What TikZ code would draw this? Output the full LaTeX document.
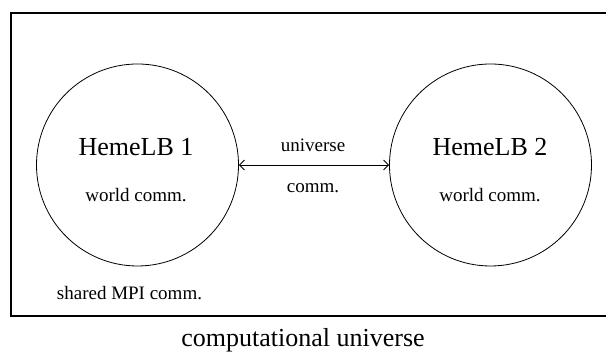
\documentclass[tikz,border=0pt]{standalone}
\usepackage{fontspec}
\setmainfont{Liberation Serif}
\usetikzlibrary{arrows,arrows.meta,positioning,calc}

\begin{document}
\begin{tikzpicture}[x=0.5pt,y=0.5pt]
    \useasboundingbox (0,0) rectangle (606,352);
    \tikzset{
        code/.style={draw, circle, minimum size=101pt, inner sep=0pt},
        big/.style={font=\fontsize{13}{15}\selectfont},
        small/.style={font=\fontsize{9.5}{11}\selectfont}
    }

    % Universe box (runs past the right edge)
    \draw[line width=0.6pt] (612,36) -- (11,36) -- (11,339) -- (612,339);
    \node[big] (univ) at (303,12) {computational universe};
    \node[small] (shared) at (129.5,59) {shared MPI comm.};

    % Codes
    \node[code] (heme1) at (137.5,187) {};
    \node[code] (heme2) at (490.5,187) {};
    \node[big] (name1) at (136,205) {HemeLB 1};
    \node[small] (world1) at (136,157) {world comm.};
    \node[big] (name2) at (490,205) {HemeLB 2};
    \node[small] (world2) at (490,157) {world comm.};

    % Coupling
    \draw[{Straight Barb[length=2.5pt,width=5pt]}-{Straight Barb[length=2.5pt,width=5pt]}] (heme1) -- (heme2);
    \node[small] (ulabel) at (313,207) {universe};
    \node[small] (clabel) at (313,164) {comm.};
\end{tikzpicture}
\end{document}
